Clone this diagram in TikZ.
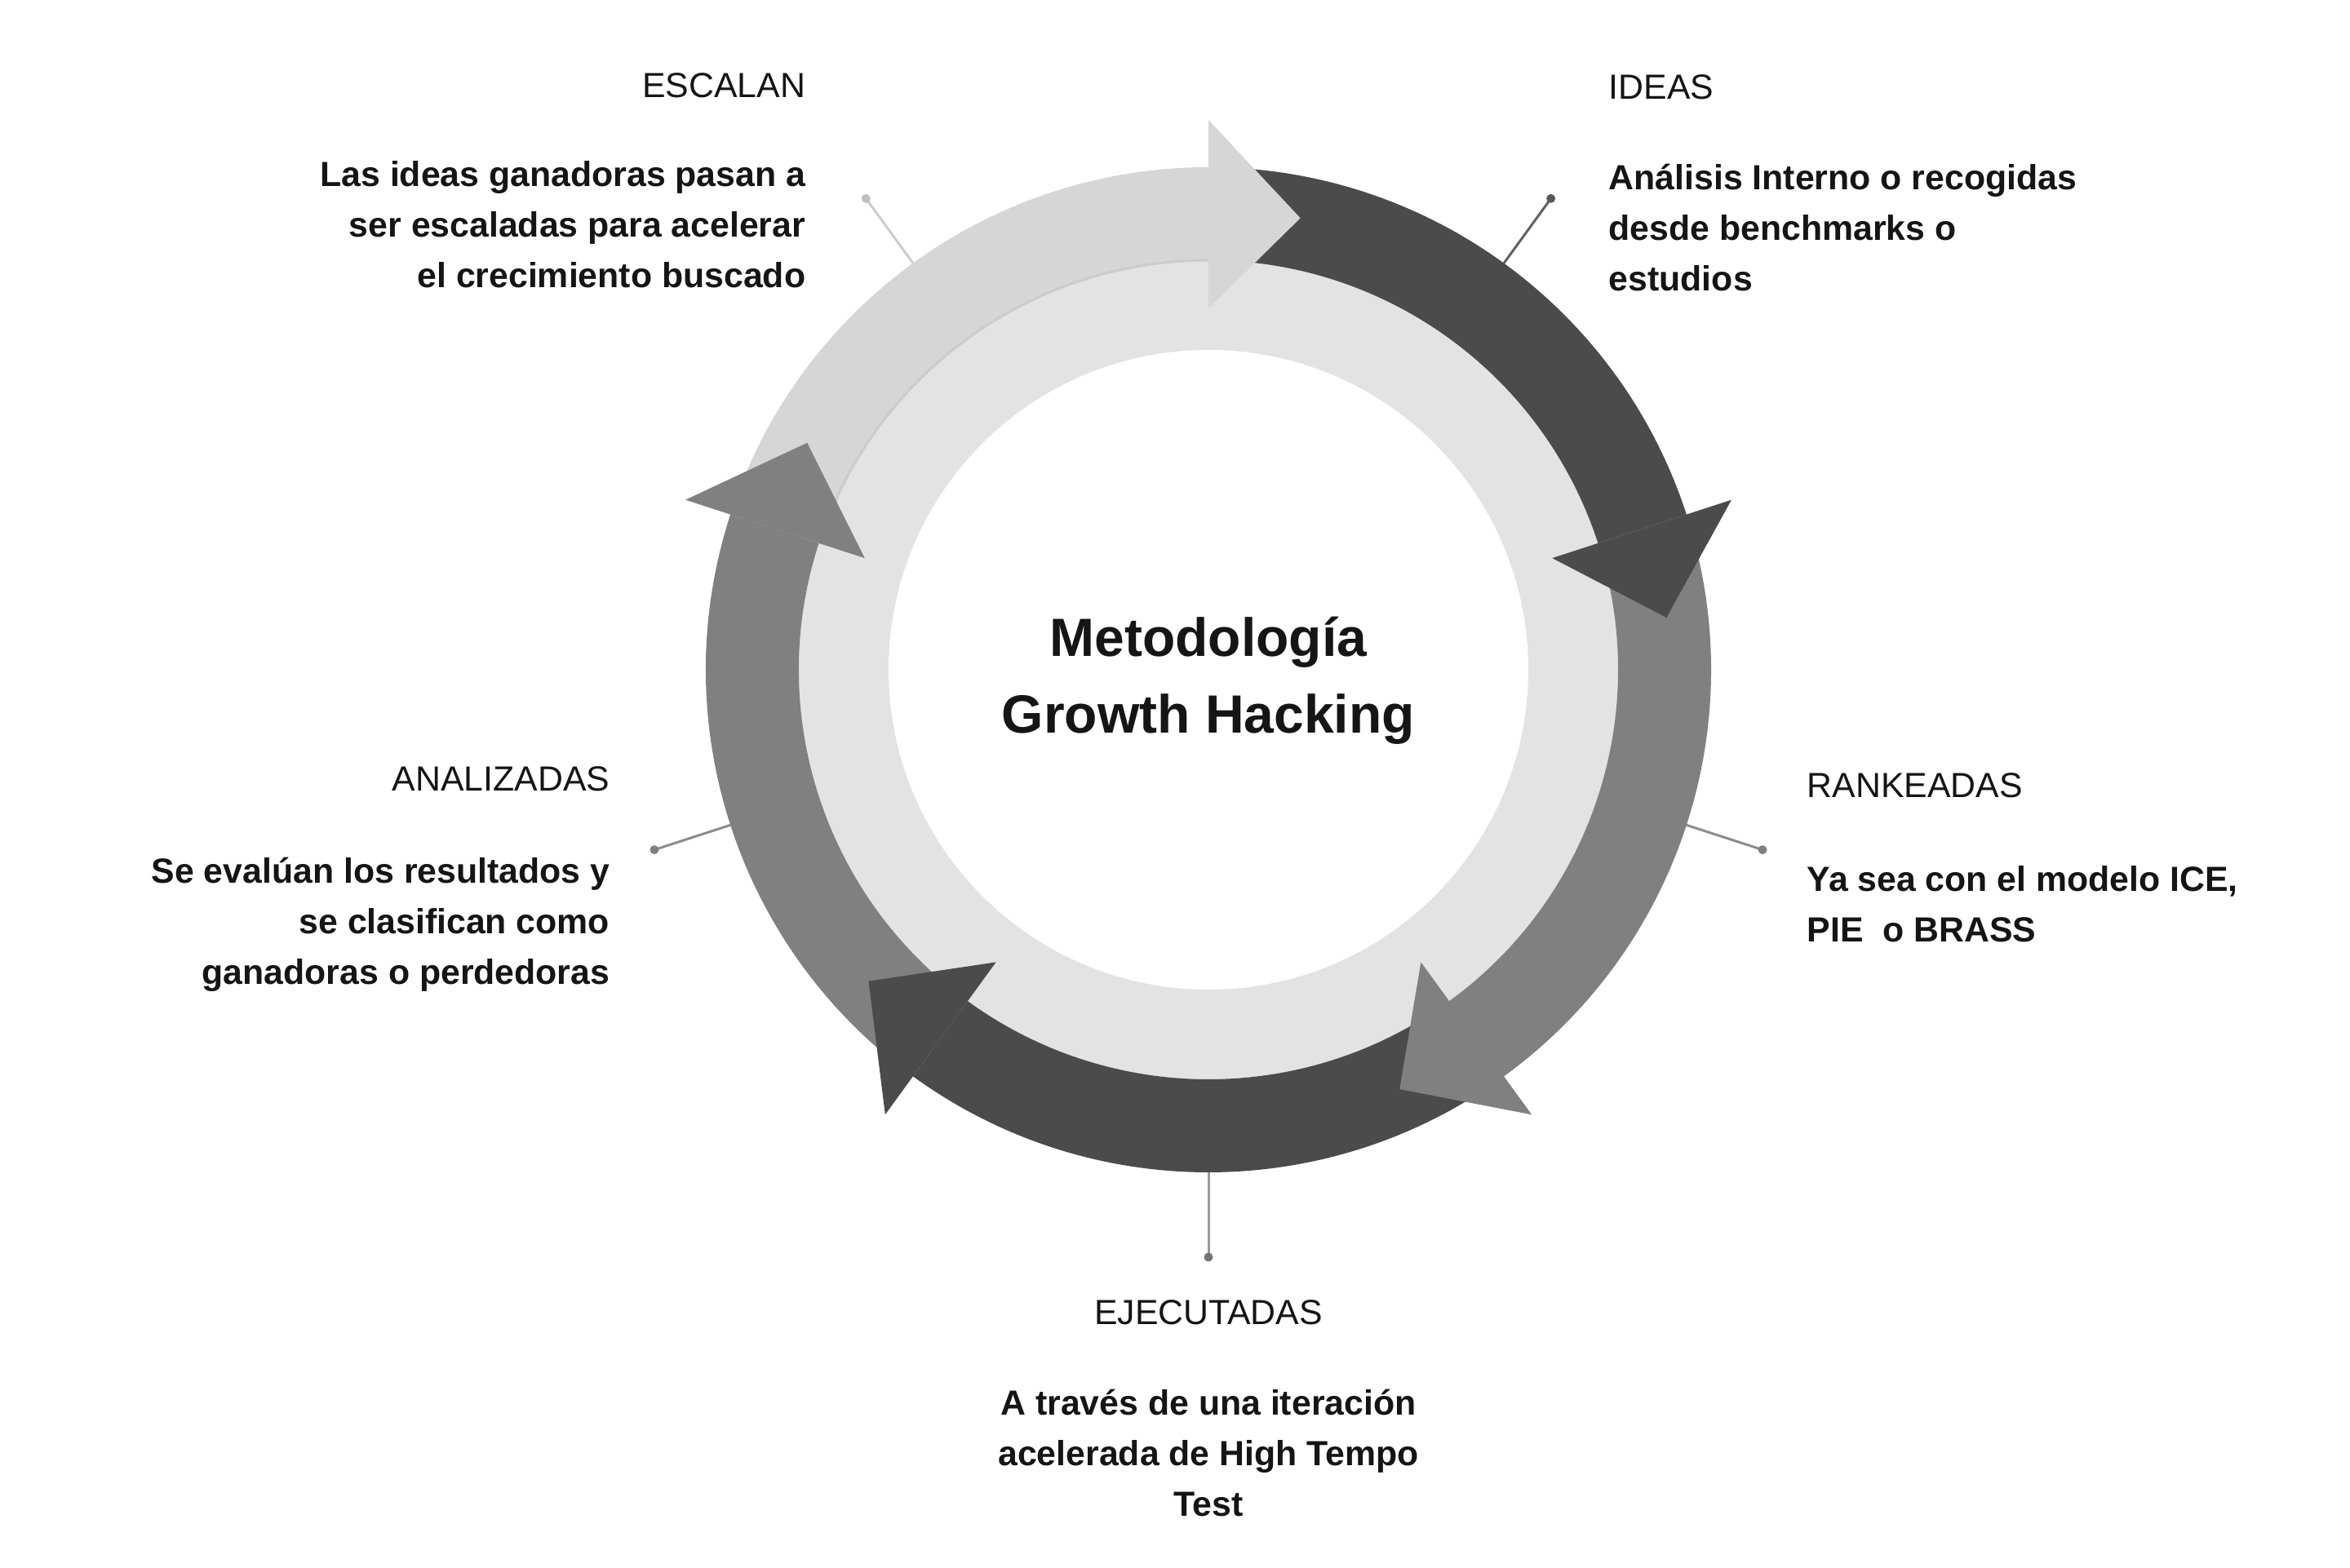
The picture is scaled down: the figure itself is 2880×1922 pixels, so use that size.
\documentclass[tikz,border=0pt]{standalone}
\usepackage{fontspec}
\setmainfont{Liberation Sans}
\definecolor{lightband}{HTML}{D6D6D6}
\definecolor{ringfill}{HTML}{E3E3E3}
\definecolor{midband}{HTML}{808080}
\definecolor{darkband}{HTML}{4B4B4B}
\definecolor{txt}{HTML}{151515}
\newcommand\ringband[3]{\fill[#3] (#1:616) arc[start angle=#1,end angle=#2,radius=616] -- (#2:502) arc[start angle=#2,end angle=#1,radius=502] -- cycle;}
\newcommand\ringhead[2]{\fill[#2] (#1:443) -- (#1:674) -- ({#1-11.5}:565) -- cycle;}
\begin{document}
\begin{tikzpicture}[x=0.25pt,y=0.25pt,
  ttl/.style={font=\fontsize{10.7}{15.6}\selectfont, text=txt, inner sep=0pt},
  bdy/.style={font=\fontsize{10.7}{15.6}\selectfont\bfseries, text=txt, inner sep=0pt},
  ctrtxt/.style={font=\fontsize{16.5}{23.5}\selectfont\bfseries, text=txt, inner sep=0pt, align=center},
  leader/.style={line width=0.75pt}]
\useasboundingbox (-1481,-1101) rectangle (1399,821);
% inner rings
\fill[ringfill] (0,0) circle[radius=502];
\fill[white] (0,0) circle[radius=392];
% bands
\ringband{162}{90}{lightband}
\ringband{90}{18}{darkband}
\ringband{18}{-54}{midband}
\ringband{-54}{-126}{darkband}
\ringband{-126}{-198}{midband}
\draw[color=black!20, line width=0.8pt] (160:502) arc[start angle=160,end angle=90,radius=502];
% heads
\ringhead{90}{lightband}
\ringhead{18}{darkband}
\ringhead{-54}{midband}
\ringhead{-126}{darkband}
\ringhead{-198}{midband}
% leader lines
\coordinate (escA) at (126:616); \coordinate (escD) at (126:714);
\coordinate (ideA) at (54:616);  \coordinate (ideD) at (54:714);
\coordinate (ranA) at (-18:616); \coordinate (ranD) at (-18:714);
\coordinate (ejeA) at (-90:616); \coordinate (ejeD) at (-90:720);
\coordinate (anaA) at (198:616); \coordinate (anaD) at (198:714);
\draw[leader, color=black!20] (escA) -- (escD); \fill[black!25] (escD) circle[radius=5.5];
\draw[leader, color=black!62] (ideA) -- (ideD); \fill[black!65] (ideD) circle[radius=5.5];
\draw[leader, color=black!45] (ranA) -- (ranD); \fill[black!50] (ranD) circle[radius=5.5];
\draw[leader, color=black!40] (ejeA) -- (ejeD); \fill[black!55] (ejeD) circle[radius=5.5];
\draw[leader, color=black!45] (anaA) -- (anaD); \fill[black!50] (anaD) circle[radius=5.5];
% center text (base anchor = last line)
\node[ctrtxt, anchor=base] (ctr) at (0,-78) {Metodología\\Growth Hacking};
% labels (base anchor = last line)
\node[ttl, anchor=base east] (escT) at (-493,701) {ESCALAN};
\node[bdy, anchor=base east, align=right] (escB) at (-493,468) {Las ideas ganadoras pasan a\\ser escaladas para acelerar\\el crecimiento buscado};
\node[ttl, anchor=base west] (ideT) at (490,699) {IDEAS};
\node[bdy, anchor=base west, align=left] (ideB) at (490,464) {Análisis Interno o recogidas\\desde benchmarks o\\estudios};
\node[ttl, anchor=base west] (ranT) at (733,-157) {RANKEADAS};
\node[bdy, anchor=base west, align=left] (ranB) at (733,-334) {Ya sea con el modelo ICE,\\PIE~ o BRASS};
\node[ttl, anchor=base] (ejeT) at (0,-803) {EJECUTADAS};
\node[bdy, anchor=base, align=center] (ejeB) at (0,-1038) {A través de una iteración\\acelerada de High Tempo\\Test};
\node[ttl, anchor=base east] (anaT) at (-733,-149) {ANALIZADAS};
\node[bdy, anchor=base east, align=right] (anaB) at (-733,-386) {Se evalúan los resultados y\\se clasifican como\\ganadoras o perdedoras};
\end{tikzpicture}
\end{document}
